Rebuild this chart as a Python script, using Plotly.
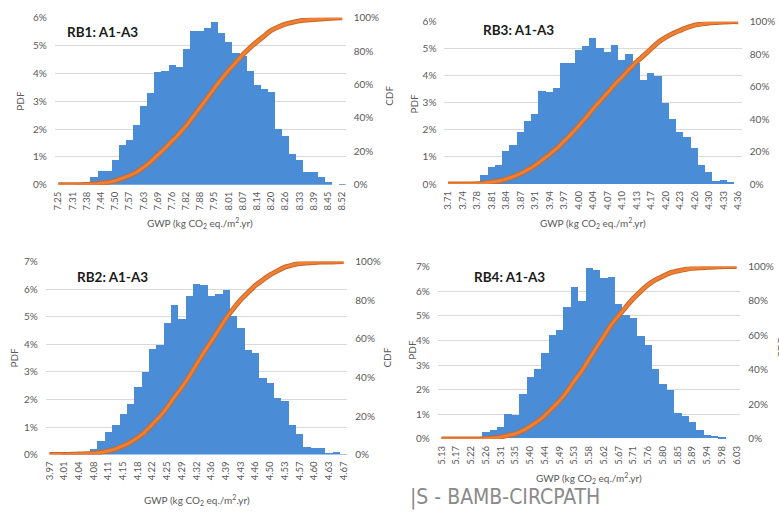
import plotly.graph_objects as go

W, H = 779, 515

# ---------------- data (PDF and CDF in %) ----------------
rb1_ticks = ["7.25", "7.31", "7.38", "7.44", "7.50", "7.57", "7.63", "7.69", "7.76", "7.82", "7.88",
             "7.95", "8.01", "8.07", "8.14", "8.20", "8.26", "8.33", "8.39", "8.45", "8.52"]
rb1_pdf = [0, 0, 0, 0.03, 0.1, 0.3, 0.5, 0.5, 0.9, 1.45, 1.6, 2.15, 2.85, 3.3, 4.05, 4.1, 4.3, 4.25,
           4.9, 5.55, 5.55, 5.65, 5.85, 5.45, 5.15, 4.75, 4.65, 4.1, 3.6, 3.45, 3.35, 2.0, 1.75, 1.1,
           0.9, 0.45, 0.45, 0.3, 0.1, 0, 0.03]
rb1_cdf = [0, 0, 0, 0, 0.1, 0.4, 0.9, 1.4, 2.3, 3.8, 5.4, 7.5, 10.4, 13.7, 17.7, 21.8, 26.1, 30.4,
           35.3, 40.8, 46.4, 52.0, 57.9, 63.3, 68.5, 73.2, 77.9, 82.0, 85.6, 89.0, 92.4, 94.4, 96.1,
           97.2, 98.1, 98.6, 99.0, 99.3, 99.6, 99.8, 100]

rb3_ticks = ["3.71", "3.74", "3.78", "3.81", "3.84", "3.87", "3.91", "3.94", "3.97", "4.00", "4.04",
             "4.07", "4.10", "4.13", "4.17", "4.20", "4.23", "4.26", "4.30", "4.33", "4.36"]
rb3_pdf = [0, 0, 0.02, 0.05, 0.1, 0.35, 0.65, 0.7, 1.25, 1.45, 1.95, 2.35, 2.6, 3.45, 3.4, 3.55, 4.5,
           4.5, 4.95, 5.1, 5.4, 5.05, 4.9, 5.15, 4.6, 4.8, 4.5, 3.85, 4.1, 4.0, 3.0, 2.4, 1.95, 1.75,
           1.35, 0.7, 0.45, 0.12, 0.18, 0.08, 0]
rb3_cdf = [0, 0, 0.02, 0.07, 0.2, 0.5, 1.2, 1.9, 3.1, 4.6, 6.5, 8.9, 11.5, 14.9, 18.3, 21.9, 26.4,
           30.9, 35.8, 40.9, 46.3, 51.4, 56.3, 61.4, 66.0, 70.8, 75.3, 79.2, 83.3, 87.3, 90.3, 92.7,
           94.6, 96.4, 97.8, 98.6, 99.2, 99.5, 99.8, 100, 100]

rb2_ticks = ["3.97", "4.01", "4.04", "4.08", "4.11", "4.15", "4.18", "4.22", "4.25", "4.29", "4.32",
             "4.36", "4.39", "4.43", "4.46", "4.50", "4.53", "4.57", "4.60", "4.63", "4.67"]
rb2_pdf = [0, 0, 0.05, 0.1, 0.1, 0.12, 0.2, 0.5, 0.85, 1.1, 1.5, 1.85, 2.45, 3.0, 3.85, 4.0, 4.8,
           5.45, 4.95, 5.75, 6.2, 6.15, 5.75, 5.85, 6.0, 5.05, 4.6, 3.8, 3.7, 2.8, 2.6, 2.05, 1.95,
           1.1, 0.75, 0.3, 0.25, 0.25, 0.05, 0.1, 0.02]
rb2_cdf = [0, 0, 0.05, 0.15, 0.25, 0.4, 0.6, 1.1, 1.9, 3.0, 4.5, 6.4, 8.8, 11.8, 15.7, 19.7, 24.5,
           29.9, 34.9, 40.6, 46.8, 53.0, 58.7, 64.6, 70.6, 75.6, 80.2, 84.0, 87.7, 90.5, 93.1, 95.2,
           97.1, 98.2, 99.0, 99.3, 99.5, 99.8, 99.8, 99.9, 100]

rb4_ticks = ["5.13", "5.17", "5.22", "5.26", "5.31", "5.35", "5.40", "5.44", "5.49", "5.53", "5.58",
             "5.62", "5.67", "5.71", "5.76", "5.80", "5.85", "5.89", "5.94", "5.98", "6.03"]
rb4_pdf = [0, 0, 0, 0, 0, 0, 0.25, 0.35, 0.45, 1.0, 0.95, 1.8, 2.5, 2.8, 3.45, 4.2, 4.4, 5.35, 6.15,
           5.6, 6.9, 6.85, 6.5, 6.55, 5.45, 5.0, 4.9, 4.15, 3.8, 2.8, 2.2, 1.95, 1.05, 0.9, 0.65,
           0.35, 0.15, 0.1, 0.03, 0, 0]
rb4_cdf = [0, 0, 0, 0, 0, 0, 0.25, 0.6, 1.05, 2.05, 3.0, 4.8, 7.3, 10.1, 13.6, 17.8, 22.2, 27.5,
           33.7, 39.3, 46.2, 53.0, 59.5, 66.1, 71.5, 76.5, 81.4, 85.6, 89.4, 92.2, 94.4, 96.3, 97.4,
           98.3, 98.9, 99.3, 99.5, 99.7, 99.9, 100, 100]

titles = ["RB1: A1-A3", "RB3: A1-A3", "RB2: A1-A3", "RB4: A1-A3"]
x_title = "GWP (kg CO<sub>2</sub> eq./m<sup>2</sup>.yr)"
footer = "|S - BAMB-CIRCPATH"

series = [
    (rb1_ticks, rb1_pdf, rb1_cdf, 6),
    (rb3_ticks, rb3_pdf, rb3_cdf, 6),
    (rb2_ticks, rb2_pdf, rb2_cdf, 7),
    (rb4_ticks, rb4_pdf, rb4_cdf, 7),
]

# ---------------- layout geometry (pixels) ----------------
# plot box: left, right, top, bottom
boxes = [
    (53, 345.5, 12, 183),
    (444.7, 743.6, 16, 182.3),
    (44, 347.1, 261.7, 459.3),
    (438, 742.1, 266.7, 443.3),
]
title_pos = [(63, 27), (481, 25), (73, 277), (472, 277)]
xtitle_y = [222, 222, 506, 483]
pdf_pos = [(18, 97), (414, 100), (12, 360), (412, 352)]
cdf_pos = [(389, 92), None, (387, 360), (783, 350)]

BAR = "#4a8cd5"
ORANGE = "#ee7f33"
ORANGE_EDGE = "#c9682a"
GRID = "#d9d9d9"
TXT = "#595959"
FONT = "Lato, 'Open Sans', sans-serif"


def px(x):
    return x / W


def py(y):
    return 1 - y / H


fig = go.Figure()
annotations = []
layout = dict(
    width=W, height=H, margin=dict(l=0, r=0, t=0, b=0),
    paper_bgcolor="white", plot_bgcolor="white",
    showlegend=False, bargap=0, font=dict(family=FONT, color=TXT),
)

for i, ((ticks, pdf, cdf, pmax), (x0, x1, yt, yb)) in enumerate(zip(series, boxes)):
    n = i + 1
    xa = "x" if n == 1 else f"x{n}"
    ya_l = f"y{2 * n - 1}" if n > 1 else "y"
    ya_r = f"y{2 * n}"
    xs = list(range(len(pdf)))

    fig.add_trace(go.Bar(x=xs, y=pdf, xaxis=xa, yaxis=ya_l,
                         marker=dict(color=BAR, line=dict(width=0))))
    fig.add_trace(go.Scatter(x=xs, y=cdf, xaxis=xa, yaxis=ya_r, mode="lines",
                             line=dict(color=ORANGE_EDGE, width=5, shape="spline", smoothing=0.6)))
    fig.add_trace(go.Scatter(x=xs, y=cdf, xaxis=xa, yaxis=ya_r, mode="lines",
                             line=dict(color=ORANGE, width=3, shape="spline", smoothing=0.6)))

    xkey = "xaxis" if n == 1 else f"xaxis{n}"
    ylkey = "yaxis" if n == 1 else f"yaxis{2 * n - 1}"
    yrkey = f"yaxis{2 * n}"
    ylname = ya_l

    layout[xkey] = dict(
        domain=[px(x0), px(x1)], anchor=ylname, range=[-0.5, len(pdf) - 0.5],
        tickmode="array", tickvals=xs[::2], ticktext=ticks, tickangle=-90,
        showgrid=False, zeroline=False, showline=False, ticks="",
        ticklabelstandoff=4, tickfont=dict(size=9.5, color=TXT, family=FONT),
    )
    layout[ylkey] = dict(
        domain=[py(yb), py(yt)], anchor=xa, range=[0, pmax], dtick=1,
        ticksuffix="%", showgrid=True, gridcolor=GRID, gridwidth=1,
        zeroline=False, showline=False, ticks="", ticklabelstandoff=7,
        tickfont=dict(size=10, color=TXT, family=FONT),
    )
    layout[yrkey] = dict(
        domain=[py(yb), py(yt)], anchor=xa, overlaying=ylname, side="right",
        range=[0, 100], dtick=20, ticksuffix="%", showgrid=False, zeroline=False,
        showline=False, ticks="", ticklabelstandoff=7,
        tickfont=dict(size=10, color=TXT, family=FONT),
    )

    tx, ty = title_pos[i]
    annotations.append(dict(text=f"<b>{titles[i]}</b>", x=px(tx), y=py(ty), xanchor="left",
                            yanchor="middle", font=dict(size=13.5, color="#1a1a1a", family=FONT)))
    annotations.append(dict(text=x_title, x=px((x0 + x1) / 2), y=py(xtitle_y[i]),
                            xanchor="center", yanchor="middle",
                            font=dict(size=10, color=TXT, family=FONT)))
    ax_, ay_ = pdf_pos[i]
    annotations.append(dict(text="PDF", x=px(ax_), y=py(ay_), textangle=-90, xanchor="center",
                            yanchor="middle", font=dict(size=10, color=TXT, family=FONT)))
    if cdf_pos[i] is not None:
        cx, cy = cdf_pos[i]
        annotations.append(dict(text="CDF", x=px(cx), y=py(cy), textangle=-90, xanchor="center",
                                yanchor="middle", font=dict(size=10, color=TXT, family=FONT)))

# slide footer running under the lower charts
annotations.append(dict(text=footer, x=px(408), y=py(488), xanchor="left", yanchor="top",
                        font=dict(size=21, color="#8a8a8a",
                                  family="'DejaVu Sans Condensed', 'Liberation Sans Narrow', sans-serif")))

for a in annotations:
    a.update(xref="paper", yref="paper", showarrow=False)
layout["annotations"] = annotations

fig.update_layout(**layout)
fig.write_html("out.html")
